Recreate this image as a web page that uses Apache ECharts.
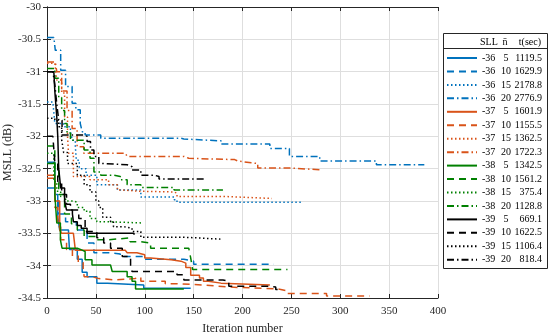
<!DOCTYPE html>
<html>
<head>
<meta charset="utf-8">
<script src="https://cdn.jsdelivr.net/npm/echarts@6/dist/echarts.min.js"></script>
<style>html,body{margin:0;padding:0;background:#fff}#c{width:550px;height:333px}</style>
</head>
<body>
<div id="c"></div>
<script>
// ---- data ----
const xTicks = [0, 50, 100, 150, 200, 250, 300, 350, 400];
const sllValues = ['-36','-36','-36','-36','-37','-37','-37','-37','-38','-38','-38','-38','-39','-39','-39','-39'];
const nValues   = ['5','10','15','20','5','10','15','20','5','10','15','20','5','10','15','20'];
const tValues   = ['1119.5','1629.9','2178.8','2776.9','1601.9','1155.5','1362.5','1722.3','1342.5','1561.2','375.4','1128.8','669.1','1622.5','1106.4','818.4'];

const s36_5  = [[0,-32.4],[5,-32.4],[8,-32.9],[11,-33.25],[13,-33.45],[22,-33.5],[23,-33.75],[31,-33.9],[36,-34.1],[41,-34.17],[51,-34.27],[62,-34.3],[99,-34.35],[147,-34.35]];
const s36_10 = [[0,-32.8],[5,-32.8],[8,-33.0],[12,-33.2],[19,-33.32],[30,-33.45],[41,-33.65],[48,-33.8],[65,-33.82],[75,-33.86],[100,-33.9],[140,-33.93],[150,-33.98],[232,-33.99]];
const s36_15 = [[0,-31.47],[6,-31.47],[8,-31.8],[17,-31.85],[24,-31.93],[26,-32.06],[29,-32.16],[30,-32.37],[33,-32.5],[40,-32.6],[51,-32.75],[72,-32.83],[96,-32.94],[130,-32.98],[133,-33.02],[262,-33.03]];
const s36_20 = [[0,-30.47],[7,-30.47],[8.5,-30.67],[14,-30.98],[19,-31.23],[25.7,-31.49],[29.5,-31.59],[34,-31.8],[36,-31.93],[39,-31.98],[55,-32.03],[137,-32.04],[140,-32.07],[178,-32.12],[228,-32.19],[248,-32.31],[279,-32.38],[337,-32.44],[386,-32.44]];
const s37_5  = [[0,-32.6],[5,-32.6],[8,-33.0],[13,-33.45],[15,-33.5],[27,-33.5],[29,-33.76],[80,-33.78],[82,-33.8],[92,-33.83],[100,-33.88],[106,-33.91],[127,-33.93],[137,-33.96],[142,-34.03],[147,-34.15],[156,-34.19],[160,-34.24],[165,-34.27],[178,-34.3],[228,-34.3]];
const s37_10 = [[0,-32.65],[5,-32.65],[8,-33.1],[11,-33.4],[14,-33.6],[20,-33.75],[26,-33.85],[32,-33.95],[37,-34.05],[38,-34.17],[46,-34.2],[53,-34.22],[70,-34.2],[90,-34.18],[96,-34.24],[121,-34.28],[133,-34.3],[161,-34.33],[185,-34.36],[236,-34.39],[246,-34.43],[286,-34.47],[330,-34.47]];
const s37_15 = [[0,-30.87],[8,-30.87],[10,-31.13],[15,-31.33],[18,-31.7],[21,-32.0],[22,-32.26],[27,-32.62],[44,-32.67],[63,-32.75],[72,-32.83],[77,-32.85],[96,-32.86],[130,-32.88],[133,-32.93],[181,-32.94],[183,-32.96],[230,-32.96]];
const s37_20 = [[0,-30.85],[8.5,-30.85],[10,-31.0],[15,-31.3],[20.5,-31.6],[25.7,-31.88],[30.8,-32.16],[37.6,-32.26],[80,-32.27],[82,-32.31],[140,-32.34],[145,-32.36],[192,-32.38],[195,-32.41],[209,-32.42],[215.6,-32.49],[250,-32.52],[281,-32.52]];
const s38_5  = [[0,-32.42],[5,-32.42],[8,-32.9],[10,-33.34],[13.7,-33.6],[15.4,-33.73],[31,-33.76],[36,-33.78],[39,-33.91],[46,-33.99],[65,-34.01],[66.7,-34.09],[82,-34.17],[87,-34.24],[90.6,-34.36],[140,-34.36]];
const s38_10 = [[0,-32.15],[5,-32.15],[8,-32.5],[12,-32.9],[18,-33.2],[25,-33.35],[31,-33.45],[38,-33.55],[51,-33.6],[62,-33.57],[85,-33.63],[96,-33.65],[106,-33.73],[145,-33.74],[147,-33.88],[149,-34.06],[246,-34.07]];
const s38_15 = [[0,-32.26],[4,-32.26],[7,-32.7],[10,-32.85],[14,-32.93],[19,-33.0],[27,-33.02],[31,-33.1],[38,-33.16],[44,-33.27],[51,-33.32],[62,-33.34],[98,-33.35]];
const s38_20 = [[0,-30.95],[5,-30.95],[8,-31.1],[12,-31.4],[15,-31.6],[18,-31.8],[20.5,-31.95],[24,-32.06],[31,-32.06],[38,-32.21],[44,-32.34],[48,-32.55],[55,-32.6],[68,-32.62],[75,-32.67],[82,-32.75],[96,-32.79],[130,-32.83],[180,-32.83]];
const s39_5  = [[0,-31.0],[7,-31.0],[8,-31.3],[10,-31.7],[11,-32.0],[12,-32.5],[14,-32.8],[18,-33.0],[20,-33.14],[26,-33.2],[27,-33.32],[31,-33.38],[35,-33.42],[41,-33.5],[89,-33.52]];
const s39_10 = [[0,-32.0],[6,-32.0],[8,-32.4],[11,-32.7],[15,-32.9],[20,-33.05],[24,-33.14],[32.5,-33.27],[39,-33.47],[51,-33.57],[58,-33.65],[65,-33.73],[77,-33.86],[85.5,-34.01],[87,-34.09],[133,-34.14],[140,-34.22],[180,-34.24],[186,-34.32],[228,-34.33],[234,-34.37],[238,-34.37]];
const s39_15 = [[0,-31.72],[5,-31.72],[8,-31.76],[12,-31.85],[15,-32.05],[17,-32.25],[21,-32.42],[31,-32.6],[38,-32.75],[44,-32.86],[50,-33.0],[53,-33.1],[57,-33.25],[65,-33.32],[68,-33.4],[79,-33.42],[87,-33.47],[96,-33.56],[140,-33.59],[178,-33.59]];
const s39_20 = [[0,-31.0],[6,-31.0],[8,-31.2],[10,-31.5],[12,-31.75],[15.4,-31.98],[37.6,-32.0],[41,-32.08],[44.5,-32.21],[48,-32.31],[53,-32.42],[58,-32.44],[82,-32.47],[87,-32.52],[96,-32.6],[109.5,-32.62],[114.6,-32.66],[162.5,-32.66]];

const seriesData = [s36_5, s36_10, s36_15, s36_20, s37_5, s37_10, s37_15, s37_20, s38_5, s38_10, s38_15, s38_20, s39_5, s39_10, s39_15, s39_20];
const colors = ['#0072BD', '#D95319', '#008000', '#000000'];
const dashes = ['solid', [7, 5], [1.5, 2.5], [7, 3, 1.5, 3]];

// ---- chart ----
const FONT = 'Liberation Serif';
const chart = echarts.init(document.getElementById('c'), null, {renderer: 'canvas'});
const names = seriesData.map((d, i) => sllValues[i] + ' ' + nValues[i] + ' ' + tValues[i]);
const nameMap = {};
names.forEach((n, i) => nameMap[n] = i);

const series = seriesData.map((d, i) => ({
  name: names[i],
  type: 'line',
  step: 'end',
  data: d,
  symbol: 'none',
  showSymbol: false,
  xAxisIndex: 0,
  yAxisIndex: 0,
  lineStyle: {color: colors[Math.floor(i / 4)], width: 1.5, type: dashes[i % 4]},
  itemStyle: {color: colors[Math.floor(i / 4)]},
  emphasis: {disabled: true},
  animation: false
}));

const axisLineStyle = {color: '#262626', width: 1};
const option = {
  animation: false,
  backgroundColor: '#fff',
  textStyle: {fontFamily: FONT},
  grid: {left: 47, top: 7, right: 112, bottom: 35, containLabel: false, outerBoundsMode: 'none'},
  xAxis: [{
    type: 'value', min: 0, max: 400, interval: 50,
    name: 'Iteration number', nameLocation: 'middle', nameGap: 25, nameMoveOverlap: false,
    nameTextStyle: {fontFamily: FONT, fontSize: 12, color: '#262626'},
    axisLine: {show: true, lineStyle: axisLineStyle},
    axisTick: {show: true, inside: true, length: 4, lineStyle: axisLineStyle},
    axisLabel: {fontFamily: FONT, fontSize: 11, color: '#262626', margin: 8},
    splitLine: {show: true, lineStyle: {color: '#dedede', width: 1}}
  }, {
    type: 'value', min: 0, max: 400, interval: 50, position: 'top',
    axisLine: {show: true, lineStyle: axisLineStyle},
    axisTick: {show: true, inside: true, length: 4, lineStyle: axisLineStyle},
    axisLabel: {show: false}, splitLine: {show: false}
  }],
  yAxis: [{
    type: 'value', min: -34.5, max: -30, interval: 0.5,
    name: 'MSLL (dB)', nameLocation: 'middle', nameGap: 33, nameRotate: 90, nameMoveOverlap: false,
    nameTextStyle: {fontFamily: FONT, fontSize: 12, color: '#262626'},
    axisLine: {show: true, lineStyle: axisLineStyle},
    axisTick: {show: true, inside: true, length: 4, lineStyle: axisLineStyle},
    axisLabel: {fontFamily: FONT, fontSize: 11, color: '#262626', margin: 6},
    splitLine: {show: true, lineStyle: {color: '#dedede', width: 1}}
  }, {
    type: 'value', min: -34.5, max: -30, interval: 0.5, position: 'right',
    axisLine: {show: true, lineStyle: axisLineStyle},
    axisTick: {show: true, inside: true, length: 4, lineStyle: axisLineStyle},
    axisLabel: {show: false}, splitLine: {show: false}
  }],
  legend: {
    orient: 'vertical', left: 446, top: 53, padding: 0,
    itemWidth: 30, itemHeight: 10, itemGap: 3.45,
    selectedMode: false,
    data: names,
    itemStyle: {opacity: 0},
    formatter: function (n) {
      const i = nameMap[n];
      return '{a|' + sllValues[i] + '}{b|' + nValues[i] + '}{c|' + tValues[i] + '}';
    },
    textStyle: {
      fontFamily: FONT, fontSize: 10, color: '#000',
      rich: {
        a: {width: 19, align: 'left', fontFamily: FONT, fontSize: 10},
        b: {width: 10, align: 'center', fontFamily: FONT, fontSize: 10},
        c: {width: 31, align: 'right', fontFamily: FONT, fontSize: 10}
      }
    }
  },
  graphic: [
    {type: 'rect', shape: {x: 443.5, y: 33.5, width: 104, height: 235}, style: {fill: 'none', stroke: '#262626', lineWidth: 1}, z: 1},
    {type: 'line', shape: {x1: 443.5, y1: 48.5, x2: 547.5, y2: 48.5}, style: {stroke: '#262626', lineWidth: 1}},
    {type: 'text', x: 480, y: 42, style: {text: 'SLL', font: '10px "Liberation Serif"', fill: '#000', textVerticalAlign: 'middle', textAlign: 'left'}},
    {type: 'text', x: 505, y: 42, style: {text: 'n\u0304', font: '10px "Liberation Serif"', fill: '#000', textVerticalAlign: 'middle', textAlign: 'center'}},
    {type: 'text', x: 541, y: 42, style: {text: 't(sec)', font: '10px "Liberation Serif"', fill: '#000', textVerticalAlign: 'middle', textAlign: 'right'}}
  ],
  series: series
};
chart.setOption(option);
</script>
</body>
</html>
